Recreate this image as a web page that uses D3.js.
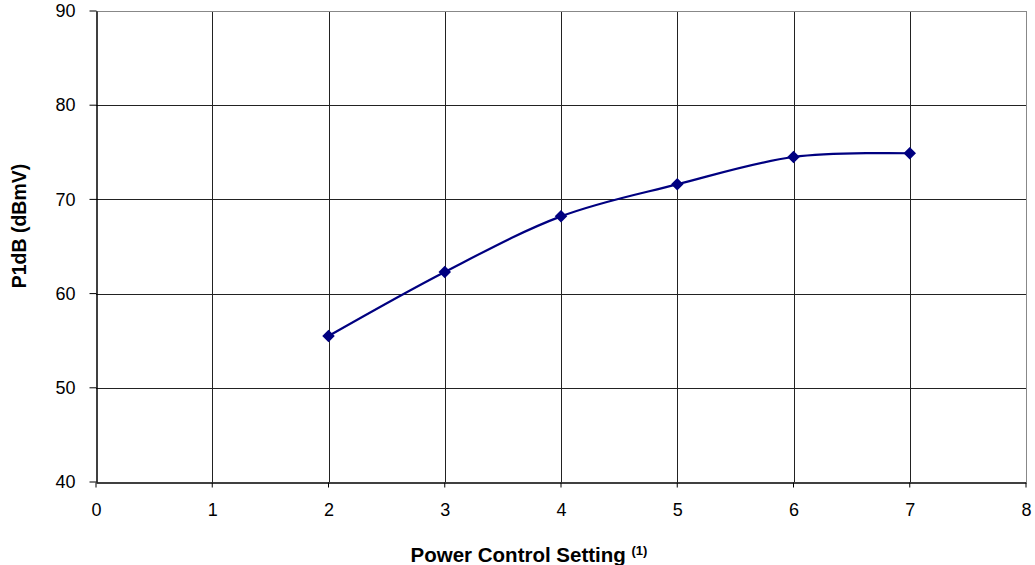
<!DOCTYPE html>
<html>
<head>
<meta charset="utf-8">
<script src="https://cdn.jsdelivr.net/npm/d3@7"></script>
<style>
  body { margin: 0; background: #fff; }
  text { font-family: "Liberation Sans", Arial, sans-serif; }
</style>
</head>
<body>
<div id="chart"></div>
<script>
// data
const settings = [2, 3, 4, 5, 6, 7];
const p1dbValues = [55.5, 62.3, 68.2, 71.6, 74.5, 74.9];
const xTicks = [0, 1, 2, 3, 4, 5, 6, 7, 8];
const yTicks = [40, 50, 60, 70, 80, 90];

const width = 1035, height = 565;
const margin = { top: 11, right: 9, bottom: 83, left: 96 };

const svg = d3.select('#chart').append('svg')
    .attr('width', width)
    .attr('height', height);

const x = d3.scaleLinear().domain([0, 8]).range([margin.left, width - margin.right]);
const y = d3.scaleLinear().domain([40, 90]).range([height - margin.bottom, margin.top]);

// grid lines
const grid = svg.append('g').attr('shape-rendering', 'crispEdges');
grid.selectAll('line.v')
    .data(xTicks.slice(1, -1))
    .enter().append('line')
    .attr('x1', d => Math.round(x(d)) + 0.5).attr('x2', d => Math.round(x(d)) + 0.5)
    .attr('y1', y(90)).attr('y2', y(40))
    .attr('stroke', '#222');
grid.selectAll('line.h')
    .data(yTicks.slice(1, -1))
    .enter().append('line')
    .attr('x1', x(0)).attr('x2', x(8))
    .attr('y1', d => Math.round(y(d)) + 0.5).attr('y2', d => Math.round(y(d)) + 0.5)
    .attr('stroke', '#222');

// top and right border (gray)
grid.append('line')
    .attr('x1', x(0)).attr('x2', x(8))
    .attr('y1', Math.round(y(90)) + 0.5).attr('y2', Math.round(y(90)) + 0.5)
    .attr('stroke', '#888');
grid.append('line')
    .attr('x1', Math.round(x(8)) + 0.5).attr('x2', Math.round(x(8)) + 0.5)
    .attr('y1', y(90)).attr('y2', y(40))
    .attr('stroke', '#888');

// axes
const xAxis = svg.append('g')
    .attr('transform', `translate(0,${Math.round(y(40)) + 0.5})`)
    .call(d3.axisBottom(x).tickValues(xTicks).tickSize(5).tickPadding(16).tickSizeOuter(0));
const yAxis = svg.append('g')
    .attr('transform', `translate(${Math.round(x(0)) + 0.5},0)`)
    .call(d3.axisLeft(y).tickValues(yTicks).tickSize(7).tickPadding(14).tickSizeOuter(0));

[xAxis, yAxis].forEach(a => {
    a.attr('font-size', 18).attr('font-family', '"Liberation Sans", Arial, sans-serif');
    a.select('.domain').attr('stroke', '#000').attr('stroke-width', 1.5);
    a.selectAll('.tick line').attr('stroke', '#000');
    a.selectAll('.tick text').attr('fill', '#000');
});
xAxis.selectAll('.tick line').attr('transform', 'translate(-0.5,0)');
yAxis.selectAll('.tick line').attr('transform', 'translate(0,-0.5)');

// series line
const pts = settings.map((s, i) => [s, p1dbValues[i]]);
const line = d3.line()
    .x(d => x(d[0]))
    .y(d => y(d[1]))
    .curve(d3.curveCardinal.tension(0));

svg.append('path')
    .datum(pts)
    .attr('d', line)
    .attr('fill', 'none')
    .attr('stroke', '#000080')
    .attr('stroke-width', 2.2);

// diamond markers
svg.selectAll('path.marker')
    .data(pts)
    .enter().append('path')
    .attr('class', 'marker')
    .attr('d', d3.symbol().type(d3.symbolDiamond2).size(100))
    .attr('transform', d => `translate(${x(d[0])},${y(d[1])})`)
    .attr('fill', '#000080');

// axis titles
const xTitle = svg.append('text')
    .attr('x', 529)
    .attr('y', 562)
    .attr('text-anchor', 'middle')
    .style('font-size', '20.5px')
    .style('font-weight', 'bold');
xTitle.append('tspan').text('Power Control Setting ');
xTitle.append('tspan')
    .attr('dy', -7)
    .style('font-size', '13px')
    .text('(1)');

svg.append('text')
    .attr('transform', 'translate(26,226) rotate(-90)')
    .attr('text-anchor', 'middle')
    .style('font-size', '19.5px')
    .style('font-weight', 'bold')
    .text('P1dB (dBmV)');
</script>
</body>
</html>
